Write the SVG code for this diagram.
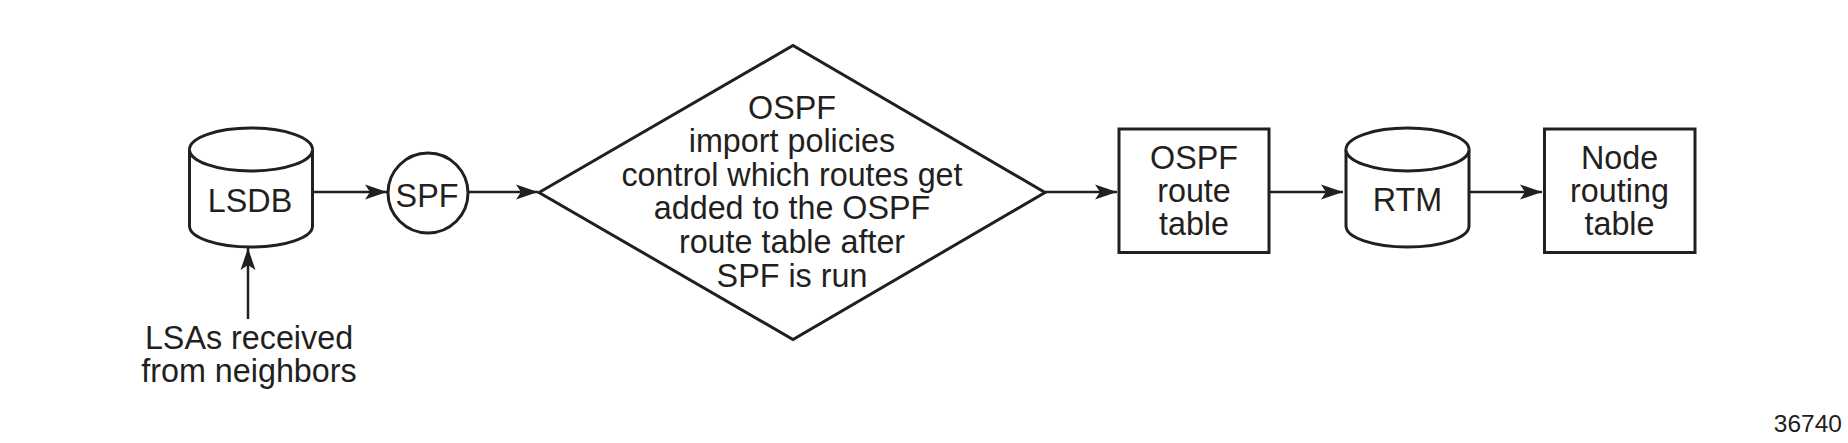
<svg xmlns="http://www.w3.org/2000/svg" width="1848" height="443" viewBox="0 0 1848 443">
<style>
.shape{fill:#fff;stroke:#231f20;stroke-width:3}
.line{fill:none;stroke:#231f20;stroke-width:2.5}
text{font-family:"Liberation Sans",Arial,sans-serif;font-size:32.3px;fill:#231f20;text-anchor:middle}
.fig{font-size:24.5px;text-anchor:end}
</style>
<defs>
<marker id="ah" markerUnits="userSpaceOnUse" markerWidth="24" markerHeight="16" viewBox="-23 -8 24 16" refX="0" refY="0" orient="auto">
<path d="M0,0 L-22,-7.5 L-17,0 L-22,7.5 Z" fill="#231f20"/>
</marker>
</defs>
<rect width="1848" height="443" fill="#fff"/>
<g id="connectors">
<line class="line" x1="312" y1="192" x2="387" y2="192" marker-end="url(#ah)"/>
<line class="line" x1="468" y1="192" x2="538" y2="192" marker-end="url(#ah)"/>
<line class="line" x1="1045" y1="192" x2="1117" y2="192" marker-end="url(#ah)"/>
<line class="line" x1="1269" y1="192" x2="1343" y2="192" marker-end="url(#ah)"/>
<line class="line" x1="1469" y1="192" x2="1542" y2="192" marker-end="url(#ah)"/>
<line class="line" x1="248" y1="319" x2="248" y2="248" marker-end="url(#ah)"/>
</g>
<g id="lsdb">
<path class="shape" d="M189.5,149.5 V226 A61.5,21 0 0 0 312.5,226 V149.5 A61.5,21.5 0 0 0 189.5,149.5 Z"/>
<path class="shape" d="M189.5,149.5 A61.5,21.5 0 0 0 312.5,149.5"/>
<text x="250" y="211.5">LSDB</text>
</g>
<g id="spf">
<circle class="shape" cx="428" cy="193" r="40"/>
<text x="427" y="206.5">SPF</text>
</g>
<g id="policy">
<polygon class="shape" points="539,192.5 793,45.5 1045,192.5 793,339.5"/>
<text x="792" y="118.5">OSPF</text>
<text x="792" y="152">import policies</text>
<text x="792" y="185.5">control which routes get</text>
<text x="792" y="219">added to the OSPF</text>
<text x="792" y="253">route table after</text>
<text x="792" y="286.5">SPF is run</text>
</g>
<g id="ospf-table">
<rect class="shape" x="1119" y="129" width="150" height="123.5"/>
<text x="1194" y="168.5">OSPF</text>
<text x="1194" y="202">route</text>
<text x="1194" y="235">table</text>
</g>
<g id="rtm">
<path class="shape" d="M1346,149.5 V226 A61.5,21 0 0 0 1469,226 V149.5 A61.5,21.5 0 0 0 1346,149.5 Z"/>
<path class="shape" d="M1346,149.5 A61.5,21.5 0 0 0 1469,149.5"/>
<text x="1407.5" y="211">RTM</text>
</g>
<g id="node-table">
<rect class="shape" x="1544.5" y="129" width="150.5" height="123.5"/>
<text x="1619.5" y="168.5">Node</text>
<text x="1619.5" y="202">routing</text>
<text x="1619.5" y="235">table</text>
</g>
<g id="lsas-label">
<text x="249" y="349">LSAs received</text>
<text x="249" y="381.5">from neighbors</text>
</g>
<text class="fig" x="1842" y="431.5">36740</text>
</svg>
